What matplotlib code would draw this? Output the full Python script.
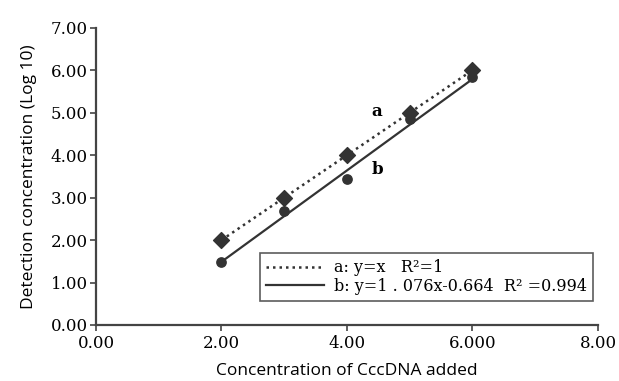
import numpy as np
import matplotlib.pyplot as plt

plt.rcParams['font.family'] = ['DejaVu Serif']

# data
added = [2, 3, 4, 5, 6]
detected_a = [2.0, 3.0, 4.0, 5.0, 6.0]
detected_b = [1.48, 2.69, 3.44, 4.85, 5.83]

slope_a, icpt_a = 1.0, 0.0
slope_b, icpt_b = 1.076, -0.664

xticks = [0, 2, 4, 6, 8]
xtick_labels = ['0.00', '2.00', '4.00', '6.000', '8.00']
yticks = [0, 1, 2, 3, 4, 5, 6, 7]
ytick_labels = ['%.2f' % v for v in yticks]

col = '#333333'

fig = plt.figure(figsize=(6.19, 3.81), dpi=100)
ax = fig.add_axes([0.155, 0.147, 0.811, 0.78])

xs = np.array([added[0], added[-1]])
ax.plot(xs, slope_a * xs + icpt_a, linestyle=(0, (1, 1.6)), color=col, lw=1.8,
        label='a: y=x   R²=1')
ax.plot(xs, slope_b * xs + icpt_b, linestyle='-', color=col, lw=1.6,
        label='b: y=1 . 076x-0.664  R² =0.994')
ax.scatter(added, detected_b, marker='o', s=45, color=col, zorder=3)
ax.scatter(added, detected_a, marker='D', s=65, color=col, zorder=4)

ax.text(4.48, 5.02, 'a', fontsize=12, fontweight='bold', ha='center', va='center')
ax.text(4.48, 3.66, 'b', fontsize=12, fontweight='bold', ha='center', va='center')

ax.set_xlim(0, 8)
ax.set_ylim(0, 7)
ax.set_xticks(xticks)
ax.set_xticklabels(xtick_labels)
ax.set_yticks(yticks)
ax.set_yticklabels(ytick_labels)
ax.tick_params(labelsize=12, length=4, width=1.2, color='#444444')
ax.tick_params(axis='y', pad=2)
ax.tick_params(axis='x', pad=3)
for s in ['top', 'right']:
    ax.spines[s].set_visible(False)
for s in ['left', 'bottom']:
    ax.spines[s].set_color('#444444')
    ax.spines[s].set_linewidth(1.6)

ax.set_xlabel('Concentration of CccDNA added', fontsize=12.5, labelpad=8,
              family='Open Sans')
ax.set_ylabel('Detection concentration (Log 10)', fontsize=12.5, labelpad=10,
              family='Open Sans')

leg = ax.legend(loc='lower right', bbox_to_anchor=(0.99, 0.08), fontsize=11.5,
                frameon=True, fancybox=False, handlelength=3.6,
                borderpad=0.4, labelspacing=0.1, handletextpad=0.6,
                borderaxespad=0)
leg.get_frame().set_edgecolor('#333333')
leg.get_frame().set_linewidth(1.2)

fig.savefig('out.png', dpi=100)
